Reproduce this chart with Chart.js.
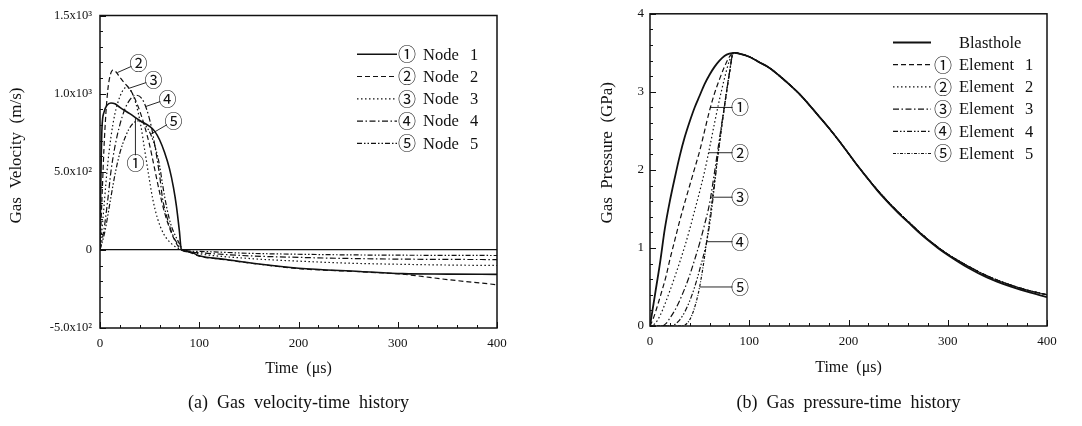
<!DOCTYPE html>
<html>
<head>
<meta charset="utf-8">
<script src="https://cdn.jsdelivr.net/npm/chart.js@4.4.0/dist/chart.umd.min.js"></script>
<style>
  body { margin: 0; background: #fff; }
  #wrap { position: relative; width: 1082px; height: 426px; }
  .panel { position: absolute; top: 0; width: 541px; height: 426px; }
  .caption { position: absolute; top: 392px; width: 541px; text-align: center; white-space: pre;
             font: 18px 'Liberation Serif', serif; color: #111; }
</style>
</head>
<body>
<div id="wrap">
  <div class="panel" style="left:0"><canvas id="velChart" width="541" height="426"></canvas></div>
  <div class="panel" style="left:541px"><canvas id="presChart" width="541" height="426"></canvas></div>
  <div class="caption" style="left:28px">(a)  Gas  velocity-time  history</div>
  <div class="caption" style="left:578px">(b)  Gas  pressure-time  history</div>
</div>
<script>
// ---- (a) gas velocity at the crack nodes: time in µs, velocity in m/s ----
const node1Time = [0, 1, 2, 4, 7, 11, 15, 20, 30, 40, 50, 55, 60, 65, 70, 74, 77, 80, 82, 90, 100, 125, 158, 200, 262, 305, 350, 400];
const node1Vel  = [0, 500, 780, 880, 925, 940, 935, 912, 872, 828, 790, 760, 705, 625, 520, 400, 280, 120, 0, -12, -38, -60, -89, -118, -138, -152, -155, -157];

const node2Time = [0, 2, 4, 6, 8, 10, 13, 16, 20, 25, 30, 35, 40, 45, 50, 55, 60, 65, 70, 75, 79, 83, 90, 100, 125, 158, 200, 262, 305, 350, 400];
const node2Vel  = [0, 330, 650, 880, 1030, 1110, 1150, 1140, 1105, 1065, 1030, 970, 890, 790, 670, 520, 370, 240, 140, 65, 20, 0, -14, -40, -62, -90, -120, -140, -156, -190, -223];

const node3Time = [0, 3, 7, 11, 15, 20, 24, 27, 31, 36, 41, 45, 49, 53, 58, 64, 72, 82, 100, 150, 200, 250, 300, 350, 400];
const node3Vel  = [0, 200, 500, 720, 870, 980, 1030, 1040, 1020, 940, 800, 640, 480, 330, 200, 104, 40, 0, -25, -55, -72, -85, -92, -97, -100];

const node4Time = [0, 4, 8, 11, 15, 20, 25, 30, 36, 42, 47, 52, 56, 60, 63, 67, 73, 78, 83, 100, 150, 200, 250, 300, 350, 400];
const node4Vel  = [0, 130, 330, 500, 660, 800, 900, 960, 990, 970, 900, 780, 640, 480, 330, 220, 100, 40, 0, -18, -38, -48, -55, -59, -61, -62];

const node5Time = [0, 5, 10, 15, 20, 26, 32, 38, 44, 51, 56, 60, 63, 66, 69, 72, 76, 80, 84, 100, 150, 200, 250, 300, 350, 400];
const node5Vel  = [0, 120, 300, 480, 620, 730, 800, 825, 810, 740, 650, 540, 420, 310, 220, 150, 90, 40, 0, -10, -22, -28, -32, -34, -35, -36];

const timeTicks = [0, 100, 200, 300, 400];
const velTicks = [-500, 0, 500, 1000, 1500];
const velTickText = ['-5.0x10²', '0', '5.0x10²', '1.0x10³', '1.5x10³'];

// ---- (b) gas pressure: time in µs, pressure in GPa ----
const holeTime = [0, 5, 10, 15, 20, 25, 30, 35, 40, 45, 50, 55, 60, 65, 70, 75, 80, 85, 90,
  100, 110, 120, 130, 140, 150, 160, 170, 180, 190, 200, 210, 220, 230, 240, 250, 260, 270, 280, 290, 300,
  320, 340, 360, 380, 400];
const holePres = [0, 0.4, 0.8, 1.25, 1.6, 1.9, 2.18, 2.42, 2.62, 2.8, 2.95, 3.1, 3.22, 3.32, 3.4, 3.46, 3.49, 3.5, 3.49,
  3.45, 3.38, 3.31, 3.21, 3.10, 2.98, 2.84, 2.69, 2.54, 2.38, 2.21, 2.04, 1.88, 1.72, 1.58, 1.45, 1.33, 1.21, 1.10, 1.00, 0.91,
  0.75, 0.62, 0.52, 0.44, 0.37];

const elem1Time = [0, 4, 8, 12, 16, 20, 25, 30, 35, 40, 45, 50, 55, 60, 65, 70, 75, 80, 84];
const elem1Pres = [0, 0.12, 0.28, 0.45, 0.63, 0.85, 1.1, 1.35, 1.58, 1.8, 2.02, 2.24, 2.5, 2.76, 2.98, 3.16, 3.32, 3.45, 3.5];
const elem2Time = [0, 5, 10, 15, 20, 25, 30, 35, 40, 45, 50, 55, 60, 65, 70, 75, 80, 84];
const elem2Pres = [0, 0.03, 0.13, 0.28, 0.45, 0.63, 0.82, 1.02, 1.24, 1.48, 1.72, 1.98, 2.28, 2.6, 2.9, 3.17, 3.4, 3.5];
const elem3Time = [0, 12, 16, 20, 25, 30, 35, 40, 45, 50, 55, 60, 65, 70, 75, 80, 84];
const elem3Pres = [0, 0, 0.03, 0.1, 0.2, 0.33, 0.48, 0.65, 0.85, 1.06, 1.3, 1.57, 1.97, 2.4, 2.82, 3.24, 3.5];
const elem4Time = [0, 22, 26, 30, 35, 40, 45, 50, 55, 58, 62, 66, 70, 75, 80, 84];
const elem4Pres = [0, 0, 0.03, 0.08, 0.18, 0.32, 0.5, 0.72, 0.96, 1.14, 1.48, 1.92, 2.36, 2.82, 3.24, 3.5];
const elem5Time = [0, 32, 36, 40, 44, 48, 50, 53, 56, 60, 65, 70, 75, 80, 84];
const elem5Pres = [0, 0, 0.02, 0.08, 0.2, 0.38, 0.5, 0.72, 0.98, 1.35, 1.85, 2.33, 2.8, 3.23, 3.5];
// after the peak every element follows the same decay
const elemFallTime = [90, 100, 110, 120, 130, 140, 150, 160, 170, 180, 190, 200, 210, 220, 230, 240, 250, 260, 270, 280, 290, 300, 320, 340, 360, 380, 400];
const elemFallPres = [3.49, 3.45, 3.38, 3.31, 3.21, 3.10, 2.98, 2.84, 2.69, 2.54, 2.38, 2.21, 2.04, 1.88, 1.73, 1.59, 1.46, 1.34, 1.22, 1.11, 1.01, 0.92, 0.77, 0.64, 0.54, 0.46, 0.40];

const presTicks = [0, 1, 2, 3, 4];

// line styles
const INK = '#111';
const SOLID = [], DASH = [5, 3], DOT = [1.5, 2.5], DASHDOT = [6, 2.5, 1.5, 2.5],
      DASHDOTDOT = [5, 2, 1.5, 2, 1.5, 2], FINEDASHDOT = [3, 1.5, 1, 1.5];

Chart.defaults.font.family = "'Liberation Serif', 'Times New Roman', serif";
Chart.defaults.color = INK;

const circledFont = "18px 'Noto Sans CJK JP', 'Liberation Serif', serif";
const labelFont = "16.5px 'Liberation Serif', serif";
const toPoints = (xs, ys) => xs.map((x, i) => ({x, y: ys[i]}));

function line(label, tag, xs, ys, dash, width) {
  return {
    label, tag, data: toPoints(xs, ys),
    borderColor: INK, borderDash: dash, borderWidth: width || 1.2,
    pointRadius: 0, fill: false, cubicInterpolationMode: 'monotone'
  };
}

// box, inward ticks, y title, in-plot legend and numbered callouts
const framePlugin = {
  id: 'frame',
  afterDraw(chart, args, opts) {
    const {ctx, chartArea: a, scales: {x, y}} = chart;
    ctx.save();
    ctx.strokeStyle = INK;
    ctx.fillStyle = INK;

    ctx.lineWidth = 1;
    ctx.beginPath();
    for (let i = 0; x.min + i * opts.xMinor <= x.max + 1e-6; i++) {
      const px = Math.round(x.getPixelForValue(x.min + i * opts.xMinor)) + 0.5;
      const len = i % opts.xEvery === 0 ? 6 : 3;
      ctx.moveTo(px, a.bottom); ctx.lineTo(px, a.bottom - len);
    }
    for (let i = 0; y.min + i * opts.yMinor <= y.max + 1e-6; i++) {
      const py = Math.round(y.getPixelForValue(y.min + i * opts.yMinor)) + 0.5;
      const len = i % opts.yEvery === 0 ? 6 : 3;
      ctx.moveTo(a.left, py); ctx.lineTo(a.left + len, py);
    }
    ctx.stroke();

    ctx.lineWidth = 1.5;
    ctx.strokeRect(a.left, a.top, a.right - a.left, a.bottom - a.top);

    // rotated y axis title
    const t = opts.yTitle;
    ctx.save();
    ctx.translate(t.x, a.top + t.dy);
    ctx.rotate(-Math.PI / 2);
    ctx.font = t.font;
    ctx.textAlign = 'center';
    ctx.textBaseline = 'middle';
    ctx.fillText(t.text, 0, 0);
    ctx.restore();

    // legend
    const lg = opts.legend;
    chart.data.datasets.forEach((ds, i) => {
      const ry = a.top + lg.top + i * lg.gap;
      ctx.save();
      ctx.lineWidth = ds.borderWidth;
      ctx.setLineDash(ds.borderDash);
      ctx.beginPath();
      ctx.moveTo(a.right - lg.lineFrom, ry);
      ctx.lineTo(a.right - lg.lineTo, ry);
      ctx.stroke();
      ctx.restore();
      ctx.textBaseline = 'middle';
      ctx.textAlign = 'center';
      if (ds.tag) {
        ctx.font = circledFont;
        ctx.fillText(ds.tag, a.right - lg.tagAt, ry);
      }
      const [word, num] = ds.label.split(' ');
      ctx.textAlign = 'left';
      ctx.font = labelFont;
      ctx.fillText(word, a.right - lg.wordAt, ry + 1);
      if (num) ctx.fillText(num, a.right - lg.numAt, ry + 1);
    });

    // numbered callouts pointing at the curves
    ctx.lineWidth = 0.9;
    ctx.setLineDash([]);
    opts.callouts.forEach(c => {
      const ax = x.getPixelForValue(c.at[0]), ay = y.getPixelForValue(c.at[1]);
      const lx = x.getPixelForValue(c.label[0]), ly = y.getPixelForValue(c.label[1]);
      const d = Math.hypot(lx - ax, ly - ay);
      const r = 7.5;
      ctx.beginPath();
      ctx.moveTo(ax, ay);
      ctx.lineTo(lx - (lx - ax) * r / d, ly - (ly - ay) * r / d);
      ctx.stroke();
      ctx.font = circledFont;
      ctx.textAlign = 'center';
      ctx.textBaseline = 'middle';
      ctx.fillText(c.tag, lx, ly);
    });
    ctx.restore();
  }
};

// ---------- (a) velocity ----------
new Chart(document.getElementById('velChart'), {
  type: 'line',
  data: {
    datasets: [
      line('Node 1', '①', node1Time, node1Vel, SOLID, 1.6),
      line('Node 2', '②', node2Time, node2Vel, DASH),
      line('Node 3', '③', node3Time, node3Vel, DOT),
      line('Node 4', '④', node4Time, node4Vel, DASHDOT),
      line('Node 5', '⑤', node5Time, node5Vel, DASHDOTDOT)
    ]
  },
  options: {
    responsive: false,
    animation: false,
    layout: {padding: {left: 0, right: 44, top: 14, bottom: 0}},
    plugins: {
      legend: {display: false},
      tooltip: {enabled: false},
      frame: {
        xMinor: 20, xEvery: 5, yMinor: 100, yEvery: 5,
        yTitle: {text: 'Gas  Velocity  (m/s)', x: 17, dy: 140, font: "17px 'Liberation Serif', serif"},
        legend: {top: 38.7, gap: 22.3, lineFrom: 140, lineTo: 100, tagAt: 90, wordAt: 74, numAt: 27},
        callouts: [
          {tag: '①', at: [35.7, 847], label: [35.7, 557]},
          {tag: '②', at: [17.6, 1135], label: [38.7, 1194]},
          {tag: '③', at: [28.7, 1033], label: [53.8, 1086]},
          {tag: '④', at: [45.8, 917], label: [67.9, 965]},
          {tag: '⑤', at: [51, 740], label: [74, 825]}
        ]
      }
    },
    scales: {
      x: {
        type: 'linear', min: 0, max: 400,
        afterBuildTicks: s => { s.ticks = timeTicks.map(v => ({value: v})); },
        afterFit: s => { s.height = 98; },
        ticks: {font: {size: 13}, padding: 8, maxRotation: 0},
        grid: {display: false, drawTicks: false},
        border: {display: false},
        title: {display: true, text: 'Time  (μs)', font: {size: 16}, padding: {top: 0, bottom: 47.5}}
      },
      y: {
        type: 'linear', min: -500, max: 1500,
        afterBuildTicks: s => { s.ticks = velTicks.map(v => ({value: v})); },
        afterFit: s => { s.width = 100; },
        ticks: {font: {size: 12.5}, padding: 8, callback: (v, i) => velTickText[i]},
        grid: {drawTicks: false, lineWidth: 1.3, color: c => c.tick && c.tick.value === 0 ? INK : 'rgba(0,0,0,0)'},
        border: {display: false},
        title: {display: false}
      }
    }
  },
  plugins: [framePlugin]
});

// ---------- (b) pressure ----------
new Chart(document.getElementById('presChart'), {
  type: 'line',
  data: {
    datasets: [
      line('Blasthole', '', holeTime, holePres, SOLID, 1.8),
      line('Element 1', '①', elem1Time.concat(elemFallTime), elem1Pres.concat(elemFallPres), DASH),
      line('Element 2', '②', elem2Time.concat(elemFallTime), elem2Pres.concat(elemFallPres), DOT),
      line('Element 3', '③', elem3Time.concat(elemFallTime), elem3Pres.concat(elemFallPres), DASHDOT),
      line('Element 4', '④', elem4Time.concat(elemFallTime), elem4Pres.concat(elemFallPres), DASHDOTDOT),
      line('Element 5', '⑤', elem5Time.concat(elemFallTime), elem5Pres.concat(elemFallPres), FINEDASHDOT)
    ]
  },
  options: {
    responsive: false,
    animation: false,
    layout: {padding: {left: 0, right: 35, top: 12, bottom: 0}},
    plugins: {
      legend: {display: false},
      tooltip: {enabled: false},
      frame: {
        xMinor: 20, xEvery: 5, yMinor: 0.2, yEvery: 5,
        yTitle: {text: 'Gas  Pressure  (GPa)', x: 67, dy: 139, font: "17px 'Liberation Serif', serif"},
        legend: {top: 28.7, gap: 22.2, lineFrom: 154, lineTo: 116, tagAt: 104, wordAt: 88, numAt: 22},
        callouts: [
          {tag: '①', at: [61, 2.8], label: [90.7, 2.8]},
          {tag: '②', at: [59, 2.22], label: [90.7, 2.22]},
          {tag: '③', at: [61, 1.65], label: [90.7, 1.65]},
          {tag: '④', at: [57, 1.08], label: [90.7, 1.08]},
          {tag: '⑤', at: [50, 0.5], label: [90.7, 0.5]}
        ]
      }
    },
    scales: {
      x: {
        type: 'linear', min: 0, max: 400,
        afterBuildTicks: s => { s.ticks = timeTicks.map(v => ({value: v})); },
        afterFit: s => { s.height = 100; },
        ticks: {font: {size: 13}, padding: 8, maxRotation: 0},
        grid: {display: false, drawTicks: false},
        border: {display: false},
        title: {display: true, text: 'Time  (μs)', font: {size: 16}, padding: {top: 0, bottom: 48.5}}
      },
      y: {
        type: 'linear', min: 0, max: 4,
        afterBuildTicks: s => { s.ticks = presTicks.map(v => ({value: v})); },
        afterFit: s => { s.width = 109; },
        ticks: {font: {size: 13}, padding: 6},
        grid: {display: false, drawTicks: false},
        border: {display: false},
        title: {display: false}
      }
    }
  },
  plugins: [framePlugin]
});
</script>
</body>
</html>
